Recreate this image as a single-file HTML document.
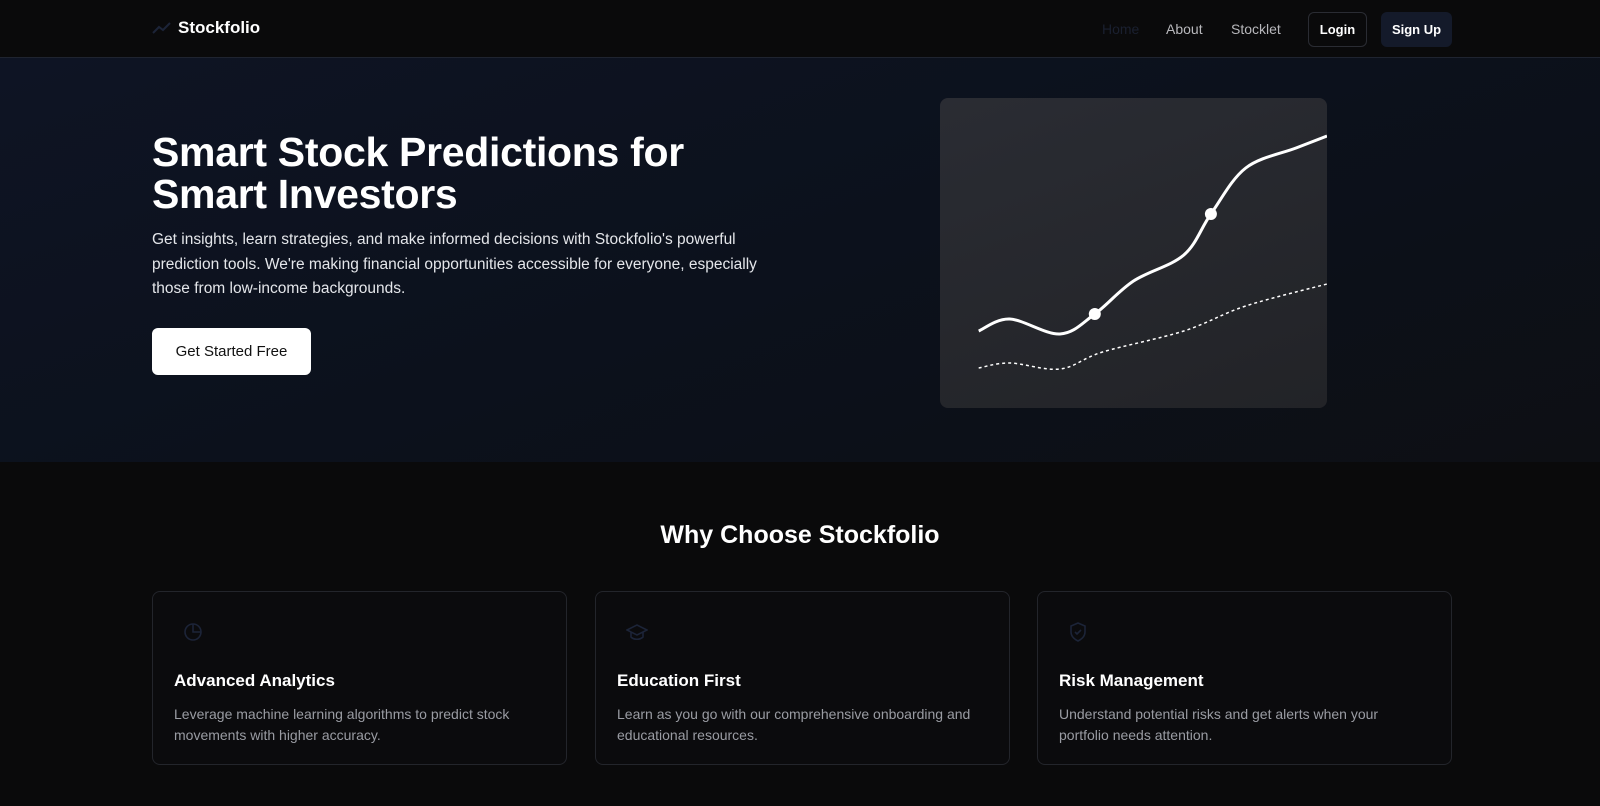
<!DOCTYPE html>
<html><head><meta charset="utf-8"><style>
*{box-sizing:border-box;margin:0;padding:0}
body{width:1600px;height:806px;overflow:hidden;background:#0a0a0b;font-family:"Liberation Sans",sans-serif;color:#fff;position:relative}
.nav{position:absolute;left:0;top:0;width:1600px;height:58px;background:#0a0a0b;border-bottom:1px solid #1f2430}
.logo{position:absolute;left:152px;top:18px;font-weight:700;font-size:17px;display:flex;align-items:center;gap:6px}
.nl{position:absolute;top:21px;font-size:14px;color:#b8b8bc}
.btn{position:absolute;top:12px;height:35px;border-radius:6px;font-size:13px;font-weight:700;display:flex;align-items:center;justify-content:center}
.hero{position:absolute;left:0;top:58px;width:1600px;height:404px;background:linear-gradient(160deg,#0e1424 0%,#0c111c 50%,#0d0f14 100%)}
h1{position:absolute;left:152px;top:131px;font-size:41px;line-height:42px;font-weight:700;letter-spacing:-0.3px}
.p{position:absolute;left:152px;top:228px;width:620px;font-size:15.5px;line-height:24.5px;color:#e4e6ea}
.cta{position:absolute;left:152px;top:328px;width:159px;height:47px;background:#fff;color:#111;border-radius:6px;font-size:15px;display:flex;align-items:center;justify-content:center}
.chart{position:absolute;left:940px;top:98px;width:387px;height:310px;border-radius:8px;background:linear-gradient(160deg,#2a2c33,#222327);overflow:hidden}
h2{position:absolute;left:0;width:1600px;text-align:center;top:521px;font-size:25px;font-weight:700}
.card{position:absolute;top:591px;width:415px;height:174px;border:1px solid #23252b;border-radius:8px;background:#0b0b0d}
.card .ic{position:absolute;left:30px;top:30px}
.card h3{position:absolute;left:21px;top:79px;font-size:17px;font-weight:600}
.card p{position:absolute;left:21px;top:112px;width:370px;font-size:14px;line-height:20.5px;color:#9a9ca3}
</style></head><body>
<div class="nav">
 <div class="logo"><svg width="20" height="14" viewBox="0 0 20 14"><polyline points="1,12 7,6 11,9 18,2" fill="none" stroke="#1c2438" stroke-width="2"/></svg><span>Stockfolio</span></div>
 <div class="nl" style="left:1102px;color:#1a2030">Home</div>
 <div class="nl" style="left:1166px">About</div>
 <div class="nl" style="left:1231px">Stocklet</div>
 <div class="btn" style="left:1308px;width:59px;border:1px solid #2a2c33;background:#0a0a0b">Login</div>
 <div class="btn" style="left:1381px;width:71px;background:#141a2a">Sign Up</div>
</div>
<div class="hero"></div>
<h1>Smart Stock Predictions for<br>Smart Investors</h1>
<div class="p">Get insights, learn strategies, and make informed decisions with Stockfolio's powerful prediction tools. We're making financial opportunities accessible for everyone, especially those from low-income backgrounds.</div>
<div class="cta">Get Started Free</div>
<div class="chart"><svg id="svg" width="387" height="310"></svg></div>
<h2>Why Choose Stockfolio</h2>
<div class="card" style="left:152px">
 <svg class="ic" width="20" height="20" viewBox="0 0 20 20"><circle cx="10" cy="10" r="8" fill="none" stroke="#1c2438" stroke-width="1.6"/><path d="M10 2v8h8" fill="none" stroke="#1c2438" stroke-width="1.6"/></svg>
 <h3>Advanced Analytics</h3><p>Leverage machine learning algorithms to predict stock movements with higher accuracy.</p></div>
<div class="card" style="left:595px">
 <svg class="ic" width="22" height="20" viewBox="0 0 22 20"><path d="M1 8l10-5 10 5-10 5z M5 10v5c3 3 9 3 12 0v-5" fill="none" stroke="#1c2438" stroke-width="1.6"/></svg>
 <h3>Education First</h3><p>Learn as you go with our comprehensive onboarding and educational resources.</p></div>
<div class="card" style="left:1037px">
 <svg class="ic" width="20" height="20" viewBox="0 0 20 20"><path d="M10 1l7 3v6c0 4-3 7-7 9-4-2-7-5-7-9V4z M7 10l2 2 4-4" fill="none" stroke="#1c2438" stroke-width="1.6"/></svg>
 <h3>Risk Management</h3><p>Understand potential risks and get alerts when your portfolio needs attention.</p></div>
<script>
const xsMain=[10,18,31,40,50,63,70,79,92,100];
const valsMain=[77,89,74,94,127,153,194,240,260,272];
const xsPred=[10,18,31,42,63,79,100];
const valsPred=[40,45,39,56,77,102,124];
const markerIdx=[3,6];
const W=387,H=310;
const sx=v=>v/100*W, sy=v=>H-v;
function path(xs,vs){const p=xs.map((x,i)=>[sx(x),sy(vs[i])]);let d=`M${p[0][0]},${p[0][1]}`;
for(let i=0;i<p.length-1;i++){const p0=p[i-1]||p[i],p1=p[i],p2=p[i+1],p3=p[i+2]||p2;
d+=` C${p1[0]+(p2[0]-p0[0])/6},${p1[1]+(p2[1]-p0[1])/6} ${p2[0]-(p3[0]-p1[0])/6},${p2[1]-(p3[1]-p1[1])/6} ${p2[0]},${p2[1]}`;}return d;}
const svg=document.getElementById('svg'),NS='http://www.w3.org/2000/svg';
const l1=document.createElementNS(NS,'path');l1.setAttribute('d',path(xsMain,valsMain));l1.setAttribute('fill','none');l1.setAttribute('stroke','#fff');l1.setAttribute('stroke-width','3');


svg.appendChild(l1);
const l2=document.createElementNS(NS,'path');l2.setAttribute('d',path(xsPred,valsPred));l2.setAttribute('fill','none');l2.setAttribute('stroke','#fff');l2.setAttribute('stroke-width','1.5');l2.setAttribute('stroke-dasharray','3 3');


svg.appendChild(l2);
markerIdx.forEach(i=>{const c=document.createElementNS(NS,'circle');c.setAttribute('cx',sx(xsMain[i]));c.setAttribute('cy',sy(valsMain[i]));c.setAttribute('r','6');c.setAttribute('fill','#fff');


svg.appendChild(c);});
</script>
</body></html>
